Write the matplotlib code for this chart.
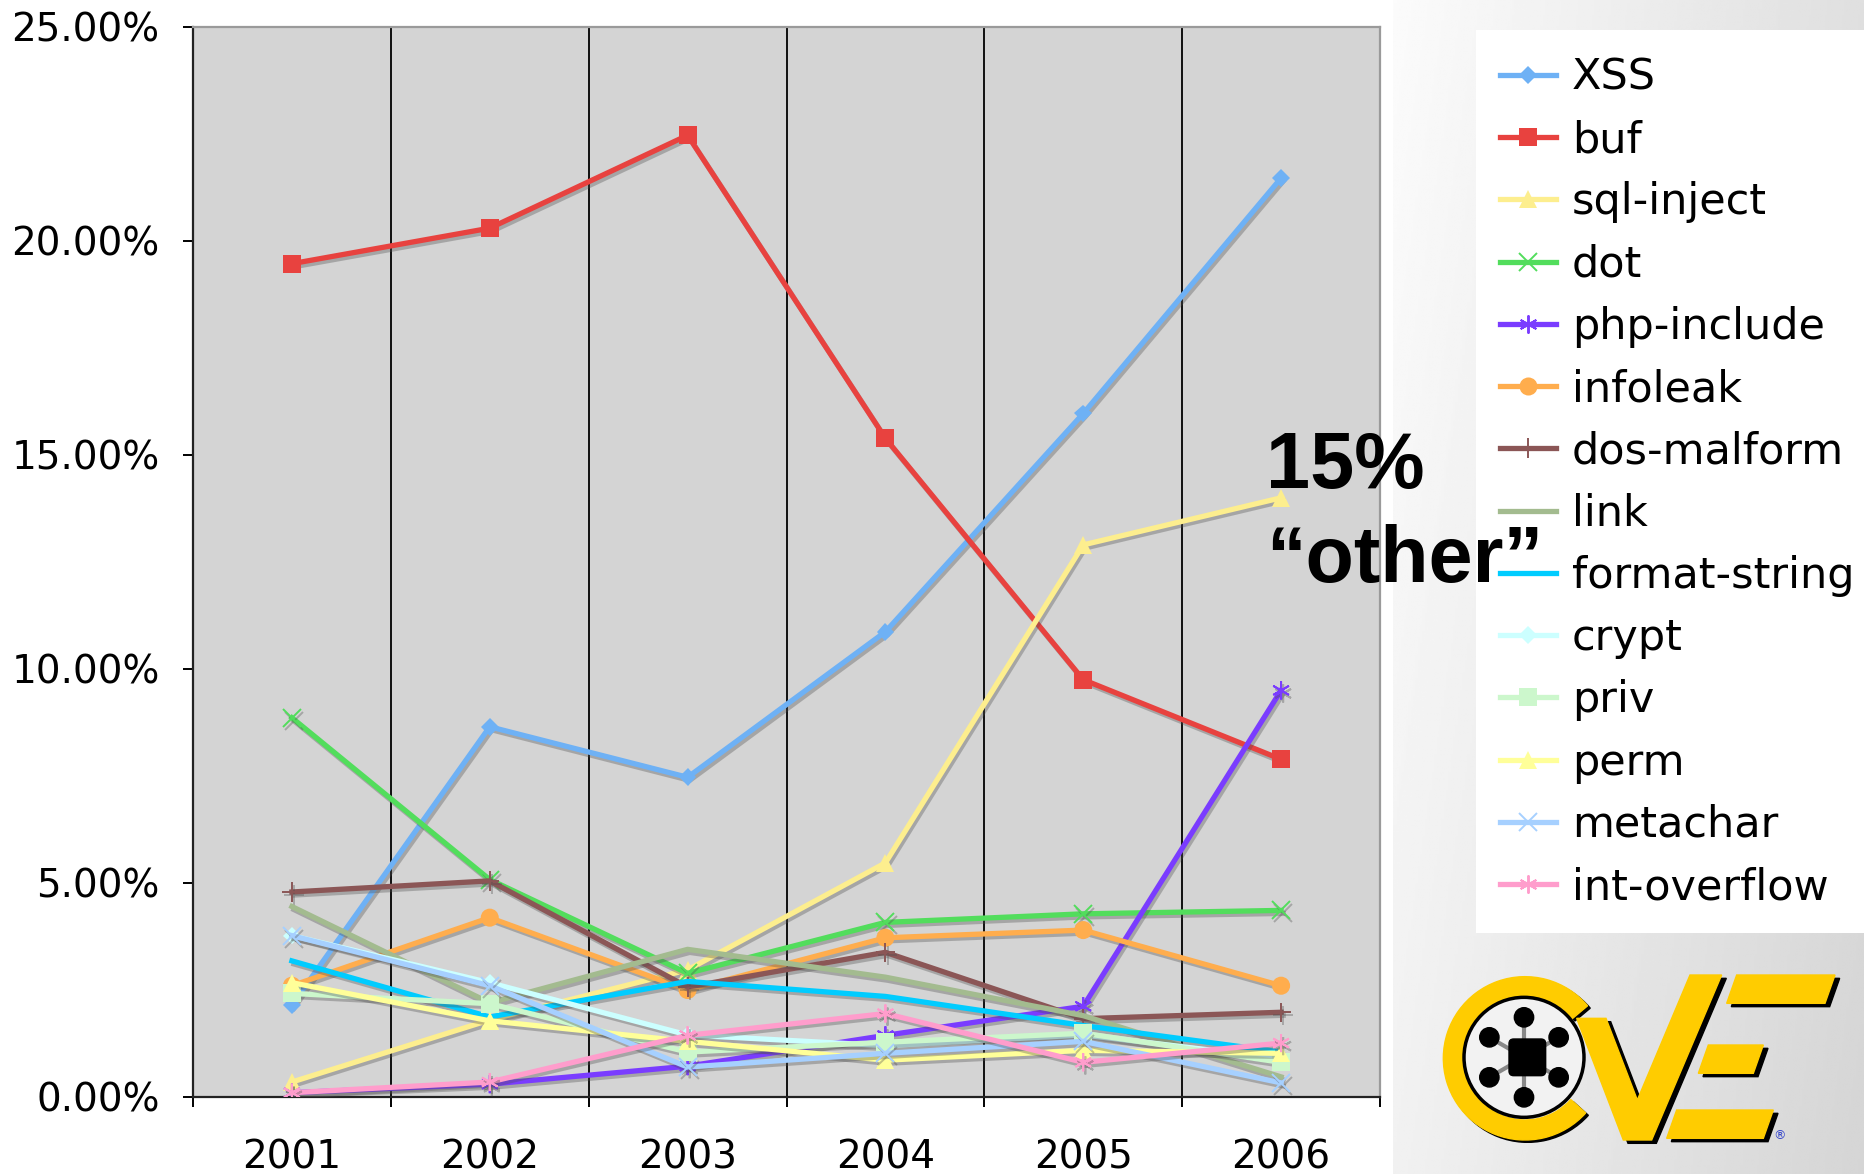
import numpy as np
import matplotlib
matplotlib.use("Agg")
import matplotlib.pyplot as plt
import matplotlib.patheffects as pe
from matplotlib.patches import Rectangle, Circle, Wedge, Polygon, FancyBboxPatch

# data (percent of CVE entries per year)
years = ["2001", "2002", "2003", "2004", "2005", "2006"]
xss = [2.15, 8.65, 7.47, 10.87, 15.97, 21.47]
buf = [19.47, 20.3, 22.47, 15.39, 9.75, 7.89]
sql_inject = [0.35, 1.8, 2.97, 5.47, 12.9, 14.0]
dot = [8.86, 5.08, 2.89, 4.08, 4.28, 4.36]
php_include = [0.1, 0.3, 0.72, 1.44, 2.12, 9.5]
infoleak = [2.6, 4.19, 2.5, 3.72, 3.9, 2.6]
dos_malform = [4.79, 5.05, 2.57, 3.38, 1.83, 1.98]
link = [4.45, 2.2, 3.45, 2.8, 1.9, 0.47]
format_string = [3.18, 1.87, 2.7, 2.35, 1.67, 1.05]
crypt = [3.77, 2.67, 1.45, 1.2, 1.45, 0.9]
priv = [2.42, 2.18, 1.05, 1.28, 1.49, 0.81]
perm = [2.67, 1.78, 1.3, 0.86, 1.09, 1.02]
metachar = [3.77, 2.6, 0.7, 1.02, 1.3, 0.33]
int_overflow = [0.1, 0.35, 1.44, 1.95, 0.81, 1.26]

names = ["XSS", "buf", "sql-inject", "dot", "php-include", "infoleak", "dos-malform",
         "link", "format-string", "crypt", "priv", "perm", "metachar", "int-overflow"]
series = [xss, buf, sql_inject, dot, php_include, infoleak, dos_malform,
          link, format_string, crypt, priv, perm, metachar, int_overflow]
colors = ["#6eb1f5", "#e8423f", "#fdee8e", "#52dd5c", "#7a3cff", "#ffad4d", "#8b5656",
          "#a3bb8f", "#00ccff", "#ccffff", "#ccf7cc", "#ffff99", "#a6d0ff", "#ff9dcc"]
ast = (6, 2, 0)
markers = ["D", "s", "^", "x", ast, "o", "+", "None", "None", "D", "s", "^", "x", ast]
msizes = [9, 13, 13, 13, 13, 13, 14, 0, 0, 9, 13, 13, 13, 13]

W, H = 1864, 1174
fig = plt.figure(figsize=(W / 100, H / 100), dpi=100)
fig.patch.set_facecolor("white")

# right-side gradient background
bg = fig.add_axes([1393 / W, 0, 1 - 1393 / W, 1], zorder=-5)
gx, gy = np.meshgrid(np.linspace(0, 1, 200), np.linspace(0, 1, 200))
bg.imshow(0.985 - 0.11 * gx - 0.04 * gy, cmap="gray", vmin=0, vmax=1,
          aspect="auto", extent=(0, 1, 1, 0))
bg.set_axis_off()

# white legend panel
fig.patches.append(Rectangle((1476 / W, 1 - 933 / H), (W - 1476) / W, (933 - 30) / H,
                             transform=fig.transFigure, facecolor="white",
                             edgecolor="none", zorder=-1))

ax = fig.add_axes([193 / W, 1 - 1097 / H, (1380 - 193) / W, (1097 - 27) / H])
ax.set_facecolor("#d4d4d4")
x = np.arange(1, len(years) + 1)

shadow = [pe.SimpleLineShadow(offset=(1.5, -2.2), shadow_color="#505050", alpha=0.35),
          pe.Normal()]
for name, vals, c, m, ms in zip(names, series, colors, markers, msizes):
    ax.plot(x, vals, color=c, lw=3.8, marker=m, markersize=ms,
            markeredgewidth=1.4 if m in ("x", "+", ast) else 0,
            markerfacecolor=c, markeredgecolor=c, label=name,
            path_effects=shadow, solid_joinstyle="round", zorder=3)

for b in np.arange(1.5, len(years)):
    ax.axvline(b, color="black", lw=1.3, zorder=1)

ax.set_xlim(0.5, len(years) + 0.5)
ax.set_ylim(0, 25)
ax.set_yticks(np.arange(0, 26, 5))
ax.set_yticklabels(["%.2f%%" % v for v in np.arange(0, 26, 5)])
ax.set_xticks(x)
ax.set_xticklabels(years)
ax.set_xticks(np.arange(0.5, len(years) + 1), minor=True)
ax.tick_params(axis="x", which="major", length=0, pad=30, labelsize=28)
ax.tick_params(axis="x", which="minor", length=7, width=1.4, direction="out")
ax.tick_params(axis="y", length=7, width=1.4, direction="out", pad=17, labelsize=28)
for s in ("left", "bottom"):
    ax.spines[s].set_color("#222222")
    ax.spines[s].set_linewidth(1.6)
for s in ("top", "right"):
    ax.spines[s].set_color("#9a9a9a")
    ax.spines[s].set_linewidth(1.6)

leg = ax.legend(loc="upper left", bbox_to_anchor=(1500 / W, 1 - 57 / H),
                bbox_transform=fig.transFigure, frameon=False, fontsize=31,
                borderpad=0, borderaxespad=0, handlelength=1.3,
                handletextpad=0.37, labelspacing=0.47)
for h in leg.legend_handles:
    h.set_path_effects([])

fig.text(1266 / W, 1 - 488 / H, "15%", fontsize=57, fontweight="bold",
         family="Liberation Sans", color="black", zorder=10)
fig.text(1266 / W, 1 - 582 / H, "\u201cother\u201d", fontsize=57, fontweight="bold",
         family="Liberation Sans", color="black", zorder=10)

# CVE logo
lg = fig.add_axes([1390 / W, 0, (W - 1390) / W, 234 / H])
lg.set_xlim(0, 1422)
lg.set_ylim(702, 0)
lg.set_axis_off()
yel = "#ffcc00"
lg.add_patch(Wedge((413, 362), 245, -318, -40, width=60, color="black"))
lg.add_patch(Wedge((405, 355), 245, -318, -40, width=60, color=yel))
lg.add_patch(Circle((402, 352), 180, facecolor="#f2f2f2", edgecolor="black", lw=2.5))
for a in np.deg2rad([90, 30, -30, -90, -150, 150]):
    px, py = 402 + 120 * np.cos(a), 352 - 120 * np.sin(a)
    lg.plot([402, px], [352, py], color="#888888", lw=3, solid_capstyle="butt")
    lg.add_patch(Circle((px, py), 29, color="black", zorder=3))
lg.add_patch(FancyBboxPatch((357, 297), 110, 110, boxstyle="round,pad=0,rounding_size=14",
                            color="black", zorder=3))
v_shape = [(560, 235), (648, 235), (742, 480), (900, 105), (995, 105), (785, 600), (700, 600)]
e_bars = [[(1010, 190), (1040, 105), (1335, 105), (1305, 190)],
          [(925, 400), (955, 315), (1120, 315), (1090, 400)],
          [(830, 595), (860, 510), (1150, 510), (1120, 595)]]
for pts in [v_shape] + e_bars:
    pts = np.array(pts, dtype=float)
    lg.add_patch(Polygon(pts + [14, 10], closed=True, color="black"))
    lg.add_patch(Polygon(pts, closed=True, color=yel))
lg.text(1168, 588, "\u00ae", fontsize=9, color="#3344cc", ha="center", va="center")

fig.savefig("out.png", dpi=100)
